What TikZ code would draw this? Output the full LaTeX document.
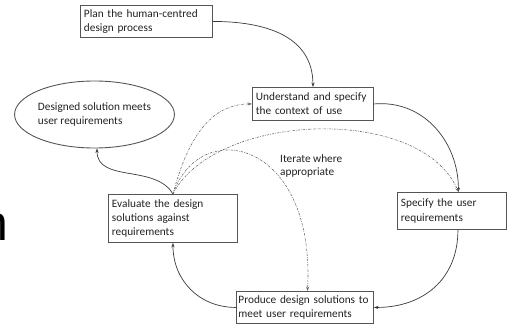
\documentclass[tikz,border=0pt]{standalone}
\usepackage{fontspec}
\setmainfont{Carlito}
\newfontfamily\bigsans{Liberation Sans}
\usetikzlibrary{arrows.meta,shapes.geometric}
\definecolor{ink}{HTML}{222222}
\definecolor{frame}{HTML}{555555}
\definecolor{flow}{HTML}{3A3A3A}
\definecolor{loop}{HTML}{6A6A6A}
\tikzset{
  stagebox/.style={draw=frame, line width=0.9pt, fill=white, text=ink,
    align=left, anchor=north west, inner xsep=3.5pt, inner ysep=2pt,
    font=\fontsize{11.3}{14.2}\selectfont},
  goal/.style={draw=frame, line width=0.9pt, ellipse, text=ink, align=left,
    inner sep=0pt, font=\fontsize{11.3}{13.6}\selectfont},
  flowline/.style={draw=flow, line width=0.7pt,
    -{Stealth[length=4.5pt,width=3.2pt]}},
  iterline/.style={draw=loop, line width=0.6pt,
    dash pattern=on 2.2pt off 1.2pt on 0.6pt off 1.2pt,
    -{Stealth[length=4.5pt,width=3.2pt]}},
  note/.style={text=ink, align=left, inner sep=0pt,
    font=\fontsize{11.3}{13.6}\selectfont}
}
\begin{document}
\begin{tikzpicture}[x=1pt,y=-1pt]
\useasboundingbox (0,0) rectangle (507,324);

% edge fragment of a large letter
\node[anchor=base west, inner sep=0pt, text=black,
  font=\bigsans\fontsize{50}{50}\selectfont] (frag) at (-19.5,240) {n};

% process stages
\node[stagebox, text width=125pt, minimum height=32pt] (plan) at (80,5)
  {Plan the human-centred\\design process};
\node[stagebox, text width=114pt, minimum height=33pt] (und) at (252,87)
  {Understand and specify\\the context of use};
\node[stagebox, text width=102pt, minimum height=37pt] (spec) at (397,192)
  {Specify the user\\requirements};
\node[stagebox, inner xsep=2pt, text width=133pt, minimum height=32pt] (prod) at (236,291)
  {\mbox{Produce design solutions to}\\meet user requirements};
\node[stagebox, text width=122pt, minimum height=48pt] (eval) at (108,194)
  {Evaluate the design\\solutions against\\requirements};

% outcome
\node[goal, minimum width=145pt, minimum height=67pt] (done) at (94.5,114.5)
  {Designed solution meets\\user requirements};

\node[note, anchor=north west] (iter) at (280,154)
  {Iterate where\\appropriate};

% main cycle
\draw[flowline] (plan.east) to[out=0, in=90, looseness=1.1] (und.north);
\draw[flowline] (und.east) to[out=5, in=90, looseness=1.05] ([xshift=6.5pt]spec.north);
\draw[flowline] ([xshift=6pt]spec.south) to[out=-90, in=0, looseness=1.1] (prod.east);
\draw[flowline] (prod.west) to[out=180, in=-90, looseness=1.05] (eval.south);
\draw[flowline] (eval.north) to[out=120, in=-90, looseness=1.0] ([xshift=2.5pt]done.south);

% iteration paths
\draw[iterline] (eval.north) to[out=75, in=180, looseness=1.0] (und.west);
\draw[iterline] (eval.north) .. controls +(42,-82) and +(-38,-88) .. ([xshift=6.5pt]spec.north);
\draw[iterline] (eval.north) .. controls +(27,-79) and +(8,-151) .. ([xshift=2.5pt]prod.north);
\end{tikzpicture}
\end{document}
